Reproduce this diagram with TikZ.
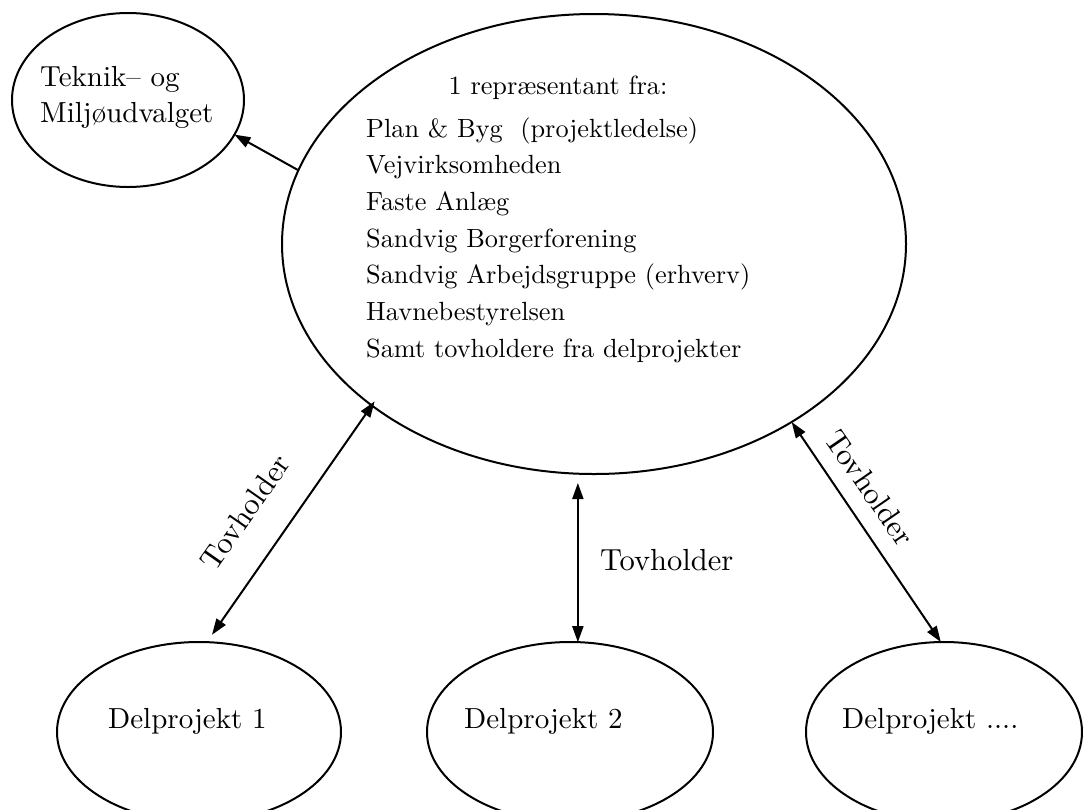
\documentclass[tikz,border=0pt]{standalone}
\usepackage{fontspec}
\setmainfont{lmroman10-regular.otf}
\usetikzlibrary{shapes.geometric,arrows.meta}
\begin{document}
\begin{tikzpicture}[x=1pt,y=-1pt,
  oval/.style={draw,ellipse,line width=2pt,inner sep=0pt,outer sep=0pt},
  tipa/.tip={Triangle[length=16pt,width=11pt]},
  conn/.style={line width=2pt,tipa-tipa},
  oneway/.style={line width=2pt,-tipa},
  big/.style={font=\fontsize{29}{36}\selectfont,inner sep=0pt},
  tov/.style={font=\fontsize{30.5}{36}\selectfont,inner sep=0pt},
  small/.style={font=\fontsize{26.3}{36}\selectfont,inner sep=0pt}]
\useasboundingbox (0,0) rectangle (1083,809);
\clip (0,0) rectangle (1083,809);
% ellipses
\node[oval,minimum width=232pt,minimum height=174pt] (tek) at (128,100) {};
\node[oval,minimum width=624pt,minimum height=460pt] (main) at (594,244) {};
\node[oval,minimum width=284pt,minimum height=180pt] (d1) at (199,732) {};
\node[oval,minimum width=286pt,minimum height=180pt] (d2) at (570,732) {};
\node[oval,minimum width=276pt,minimum height=180pt] (d3) at (944,732) {};
% texts
\node[big,anchor=base west] (tek1) at (40,86) {Teknik– og};
\node[big,anchor=base west] (tek2) at (40,122) {Miljøudvalget};
\node[small,anchor=base] (title) at (558,94) {1 repræsentant fra:};
\node[small,anchor=base west] (l1) at (366,137) {Plan \& Byg\ \ (projektledelse)};
\node[small,anchor=base west] (l2) at (366,173.7) {Vejvirksomheden};
\node[small,anchor=base west] (l3) at (366,210.4) {Faste Anlæg};
\node[small,anchor=base west] (l4) at (366,247.1) {Sandvig Borgerforening};
\node[small,anchor=base west] (l5) at (366,283.8) {Sandvig Arbejdsgruppe (erhverv)};
\node[small,anchor=base west] (l6) at (366,320.5) {Havnebestyrelsen};
\node[small,anchor=base west] (l7) at (366,357.2) {Samt tovholdere fra delprojekter};
\node[big,anchor=base west] (t1) at (108,728) {Delprojekt 1};
\node[big,anchor=base west] (t2) at (464,728) {Delprojekt 2};
\node[big,anchor=base west] (t3) at (842,728) {Delprojekt ....};
% connectors
\draw[oneway] (main.166) -- (tek.342);
\draw[conn,shorten <=-5pt,shorten >=9pt] (main.216) -- (d1.85);
\draw[conn,shorten <=9pt] (d2.85 |- main.south) -- (d2.85);
\draw[conn] (main.318) -- (d3.92);
% connector labels
\node[tov,rotate=55] (tv1) at (245,512) {Tovholder};
\node[tov,anchor=base west] (tv2) at (600,570) {Tovholder};
\node[tov,rotate=-55.5] (tv3) at (870,488) {Tovholder};
\end{tikzpicture}
\end{document}
